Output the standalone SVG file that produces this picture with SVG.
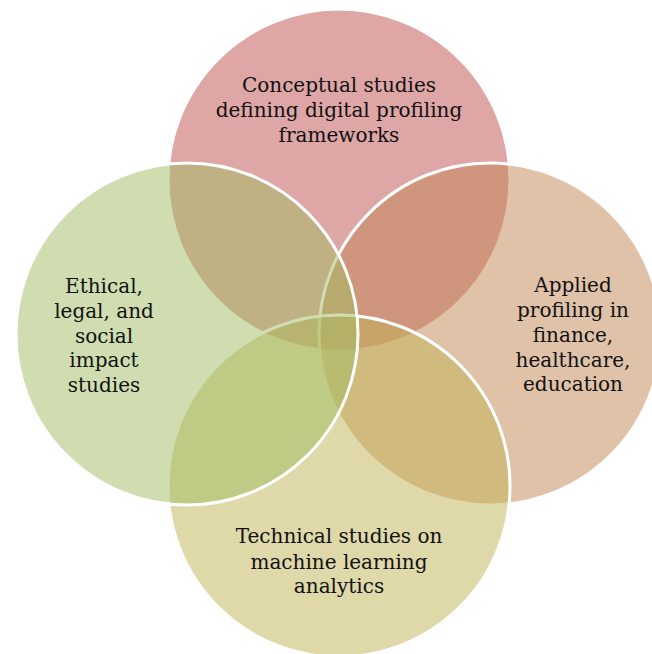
<svg xmlns="http://www.w3.org/2000/svg" width="652" height="654" viewBox="0 0 652 654">
  <style>
    .ring { stroke: #ffffff; stroke-width: 3; fill-opacity: 0.5; }
    .label { font-family: "DejaVu Serif", "Liberation Serif", serif; font-size: 20px; fill: #111111; text-anchor: middle; }
  </style>
  <rect width="652" height="654" fill="#ffffff"/>
  <g id="connectors"/>
  <!-- Four overlapping circles, drawn top, right, bottom, left -->
  <g id="node-conceptual">
    <circle class="ring" cx="339" cy="180" r="171" fill="#C04D4D"/>
  </g>
  <g id="node-applied">
    <circle class="ring" cx="490" cy="334" r="171" fill="#C18553"/>
  </g>
  <g id="node-technical">
    <circle class="ring" cx="339" cy="486" r="171" fill="#BFB153"/>
  </g>
  <g id="node-ethical">
    <circle class="ring" cx="187" cy="334" r="171" fill="#9FBB61"/>
  </g>
  <!-- Labels -->
  <g id="labels">
    <text class="label" x="339" y="92">Conceptual studies</text>
    <text class="label" x="339" y="117">defining digital profiling</text>
    <text class="label" x="339" y="142">frameworks</text>

    <text class="label" x="573" y="292">Applied</text>
    <text class="label" x="573" y="317">profiling in</text>
    <text class="label" x="573" y="342">finance,</text>
    <text class="label" x="573" y="367">healthcare,</text>
    <text class="label" x="573" y="391">education</text>

    <text class="label" x="339" y="543">Technical studies on</text>
    <text class="label" x="339" y="569">machine learning</text>
    <text class="label" x="339" y="593">analytics</text>

    <text class="label" x="104" y="293">Ethical,</text>
    <text class="label" x="104" y="318">legal, and</text>
    <text class="label" x="104" y="343">social</text>
    <text class="label" x="104" y="367">impact</text>
    <text class="label" x="104" y="392">studies</text>
  </g>
</svg>
